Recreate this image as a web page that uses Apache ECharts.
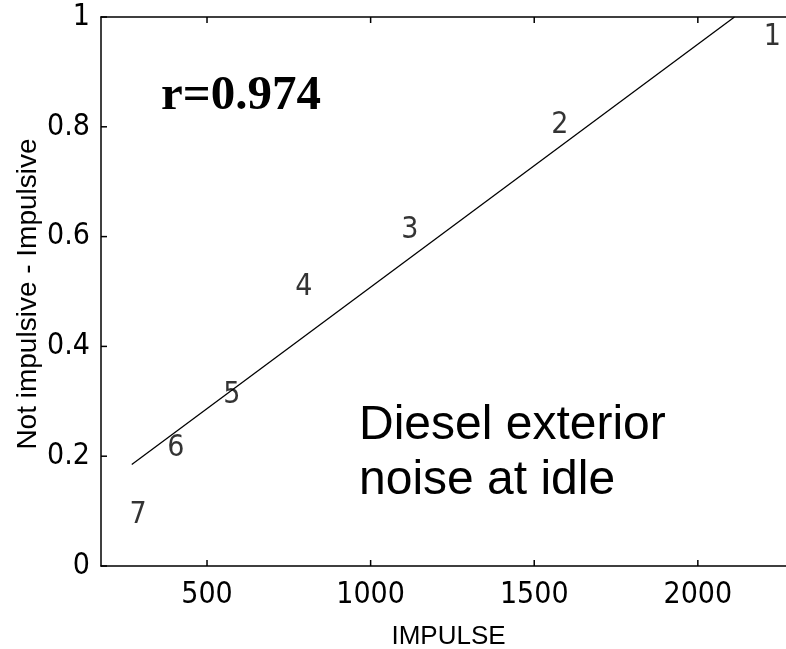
<!DOCTYPE html>
<html>
<head>
<meta charset="utf-8">
<script src="https://cdn.jsdelivr.net/npm/echarts@6/dist/echarts.min.js"></script>
<style>
html,body{margin:0;padding:0;background:#fff;}
#chart{width:786px;height:649px;}
</style>
</head>
<body>
<div id="chart"></div>
<script>
// Point labels (numbered observations)
const pointNames = ['1', '2', '3', '4', '5', '6', '7'];
const pointX = [2228, 1578, 1120, 796, 576, 405, 289];
const pointY = [0.964, 0.802, 0.612, 0.508, 0.311, 0.215, 0.092];
// Regression line endpoints
const fitX = [270, 2112];
const fitY = [0.185, 1.0];
// Axis ticks
const xTicks = [500, 1000, 1500, 2000];
const yTicks = [0, 0.2, 0.4, 0.6, 0.8, 1];
const xName = 'IMPULSE';
const yName = 'Not impulsive - Impulsive';
const rText = 'r=0.974';
const noteText = 'Diesel exterior\nnoise at idle';

const tickFont = '"Liberation Sans Narrow", "Arial Narrow", "DejaVu Sans Condensed", sans-serif';
const X_MIN = 176, X_MAX = 2300;
const TICK_LEN = 6;
const tickStyle = {stroke: '#000', lineWidth: 1.5};

const chart = echarts.init(document.getElementById('chart'), null, {renderer: 'canvas'});
const option = {
  animation: false,
  backgroundColor: '#ffffff',
  grid: {left: 101, top: 17, right: -10, bottom: 83, containLabel: false, outerBoundsMode: 'none'},
  xAxis: [{
    type: 'value', min: X_MIN, max: X_MAX, position: 'bottom',
    axisLine: {show: true, onZero: false, lineStyle: {color: '#000', width: 1.5}},
    axisTick: {show: false},
    axisLabel: {show: true, customValues: xTicks, margin: 14, color: '#000', fontSize: 30, fontFamily: tickFont,
      formatter: v => String(v)},
    splitLine: {show: false},
    name: xName, nameLocation: 'middle', nameGap: 58,
    nameTextStyle: {color: '#000', fontSize: 26, fontFamily: 'Liberation Sans Narrow, Arial, sans-serif'}
  }, {
    type: 'value', min: X_MIN, max: X_MAX, position: 'top',
    axisLine: {show: true, onZero: false, lineStyle: {color: '#000', width: 1.5}},
    axisTick: {show: false},
    axisLabel: {show: false},
    splitLine: {show: false}
  }],
  yAxis: [{
    type: 'value', min: 0, max: 1,
    axisLine: {show: true, onZero: false, lineStyle: {color: '#000', width: 1.5}},
    axisTick: {show: false},
    axisLabel: {show: true, customValues: yTicks, margin: 11, color: '#000', fontSize: 30, fontFamily: tickFont,
      formatter: v => String(Math.round(v * 10) / 10)},
    splitLine: {show: false}
  }],
  series: [{
    type: 'line',
    data: fitX.map((x, i) => [x, fitY[i]]),
    symbol: 'none',
    lineStyle: {color: '#000', width: 1.3},
    silent: true
  }, {
    type: 'scatter',
    data: pointX.map((x, i) => ({name: pointNames[i], value: [x, pointY[i]]})),
    symbolSize: 0,
    label: {show: true, position: 'inside', formatter: p => p.name, color: '#000', fontSize: 30, fontFamily: tickFont},
    silent: true
  }, {
    // inward x ticks (bottom and top edges)
    type: 'custom',
    silent: true,
    clip: false,
    data: xTicks.map(v => [v, 0]),
    encode: {x: 0, y: 1},
    renderItem: function (params, api) {
      const v = api.value(0);
      const pb = api.coord([v, 0]);
      const pt = api.coord([v, 1]);
      return {type: 'group', children: [
        {type: 'line', shape: {x1: pb[0], y1: pb[1], x2: pb[0], y2: pb[1] - TICK_LEN}, style: tickStyle},
        {type: 'line', shape: {x1: pt[0], y1: pt[1], x2: pt[0], y2: pt[1] + TICK_LEN}, style: tickStyle}
      ]};
    }
  }, {
    // inward y ticks (left edge)
    type: 'custom',
    silent: true,
    clip: false,
    data: yTicks.map(v => [X_MIN, v]),
    encode: {x: 0, y: 1},
    renderItem: function (params, api) {
      const p = api.coord([X_MIN, api.value(1)]);
      return {type: 'line', shape: {x1: p[0], y1: p[1], x2: p[0] + TICK_LEN, y2: p[1]}, style: tickStyle};
    }
  }],
  graphic: [{
    type: 'text', left: 161, top: 72,
    style: {text: rText, fill: '#000', font: 'bold 49px "Liberation Serif", "Times New Roman", serif'}
  }, {
    type: 'text', left: 359, top: 398,
    style: {text: noteText, fill: '#000', font: '48px "Liberation Sans", Arial, sans-serif', lineHeight: 55}
  }, {
    type: 'text', x: 28, y: 294, rotation: Math.PI / 2,
    style: {text: yName, fill: '#000', font: '28px "Liberation Sans", Arial, sans-serif', align: 'center', verticalAlign: 'middle'}
  }]
};
chart.setOption(option);
</script>
</body>
</html>
